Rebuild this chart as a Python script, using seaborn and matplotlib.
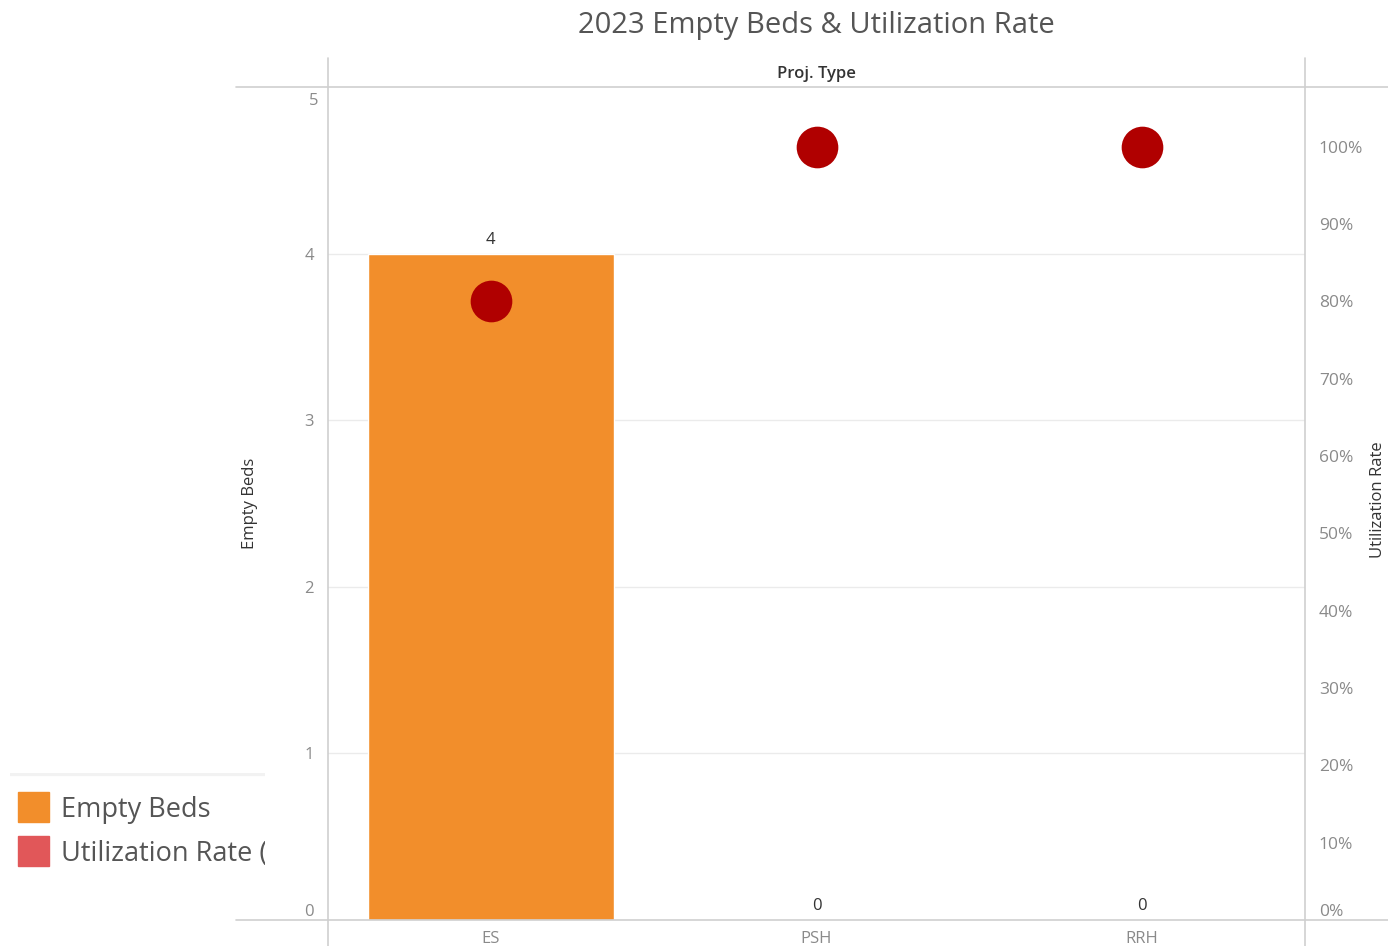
import matplotlib
matplotlib.use("Agg")
import matplotlib.pyplot as plt
import seaborn as sns
import pandas as pd
from matplotlib.patches import Rectangle
from matplotlib.lines import Line2D

# ---- data ----
proj_types = ["ES", "PSH", "RRH"]
empty_beds = [4, 0, 0]
utilization_rate = [0.80, 1.00, 1.00]
left_ticks = [0, 1, 2, 3, 4, 5]
right_ticks = [0.0, 0.1, 0.2, 0.3, 0.4, 0.5, 0.6, 0.7, 0.8, 0.9, 1.0]
legend_labels = ["Empty Beds", "Utilization Rate (Current Year)"]

df = pd.DataFrame({"Proj. Type": proj_types, "Empty Beds": empty_beds,
                   "Utilization Rate": utilization_rate})

sns.set_theme(style="white")
plt.rcParams["font.family"] = ["Open Sans", "DejaVu Sans"]

W, H = 1388, 946
fig = plt.figure(figsize=(W / 100, H / 100), dpi=100)

L, R, T, B = 328, 1305, 87, 920
ax = fig.add_axes([L / W, 1 - B / H, (R - L) / W, (B - T) / H])

bar_color = "#F28E2B"
dot_color = "#B00000"
grid_color = "#EBEBEB"
line_color = "#CFCFCF"
tick_color = "#8A8A8A"
text_color = "#333333"

sns.barplot(data=df, x="Proj. Type", y="Empty Beds", color=bar_color,
            width=0.755, saturation=1, ax=ax, zorder=2)
ax.set_xlim(-0.5, 2.5)
ax.set_ylim(0, 5)
ax.set_yticks(left_ticks)
# top label drawn separately (pushed down inside the frame, as in the reference)
ax.set_yticklabels([str(t) for t in left_ticks[:-1]] + [""],
                   color=tick_color, fontsize=12)
ax.get_yticklabels()[0].set_va("bottom")
ax.annotate(str(left_ticks[-1]), (0, left_ticks[-1]),
            xycoords=("axes fraction", "data"), xytext=(-10, -6),
            textcoords="offset pixels", ha="right", va="top",
            fontsize=12, color=tick_color)
for t in left_ticks[1:-1]:
    ax.axhline(t, color=grid_color, lw=1, zorder=0)
ax.tick_params(axis="y", length=0, pad=10)
ax.tick_params(axis="x", length=0, pad=8, labelsize=12, labelcolor=tick_color)
ax.set_xlabel("")
ax.set_ylabel("")
for s in ax.spines.values():
    s.set_visible(False)

# bar value labels
for i, v in enumerate(empty_beds):
    ax.annotate(str(v), (i, v), xytext=(0, 4), textcoords="offset points",
                ha="center", va="bottom", fontsize=12, color=text_color)

# right axis: utilization rate
ax2 = ax.twinx()
sns.scatterplot(data=df, x="Proj. Type", y="Utilization Rate", color=dot_color,
                s=900, linewidth=0, ax=ax2, zorder=3, legend=False)
ax2.set_xlim(-0.5, 2.5)
ax2.set_ylim(0, 1.077)
ax2.set_yticks(right_ticks)
ax2.set_yticklabels([f"{int(round(t * 100))}%" for t in right_ticks],
                    color=tick_color, fontsize=12.5)
ax2.get_yticklabels()[0].set_va("bottom")
ax2.tick_params(axis="y", length=0, pad=10)
ax2.set_ylabel("")
for s in ax2.spines.values():
    s.set_visible(False)

# axis titles
fig.text(250 / W, 1 - 503 / H, "Empty Beds", rotation=90, ha="center",
         va="center", fontsize=12, color=text_color)
fig.text(1378 / W, 1 - 500 / H, "Utilization Rate", rotation=90, ha="center",
         va="center", fontsize=12, color=text_color)

# frame lines (Tableau-like)
def hline(y, x0, x1):
    fig.add_artist(Line2D([x0 / W, x1 / W], [1 - y / H, 1 - y / H],
                          color=line_color, lw=1.2))

def vline(x, y0, y1):
    fig.add_artist(Line2D([x / W, x / W], [1 - y0 / H, 1 - y1 / H],
                          color=line_color, lw=1.2))

hline(T, 236, W)
hline(B, 236, W)
vline(L, 58, H)
vline(R, 58, H)

# header and title
fig.text((L + R) / 2 / W, 1 - 74 / H, "Proj. Type", ha="center", va="center",
         fontsize=12, color=text_color, fontweight="semibold")
fig.text((L + R) / 2 / W, 1 - 26 / H, "2023 Empty Beds & Utilization Rate",
         ha="center", va="center", fontsize=21, color="#555555")

# legend (clipped like the reference)
lg = fig.add_axes([10 / W, 1 - 880 / H, 255 / W, 107 / H])
lg.set_xlim(10, 265)
lg.set_ylim(880, 773)
lg.axis("off")
lg.plot([10, 265], [774, 774], color="#F2F2F2", lw=3, clip_on=True)
leg_colors = [bar_color, "#E15759"]
for k, (lab, c) in enumerate(zip(legend_labels, leg_colors)):
    y0 = 792 + 44 * k
    lg.add_patch(Rectangle((18, y0), 31, 30, color=c))
    lg.text(61, y0 + 18, lab, ha="left", va="center", fontsize=19.5,
            color="#555555", clip_on=True)

fig.savefig("out.png", dpi=100)
